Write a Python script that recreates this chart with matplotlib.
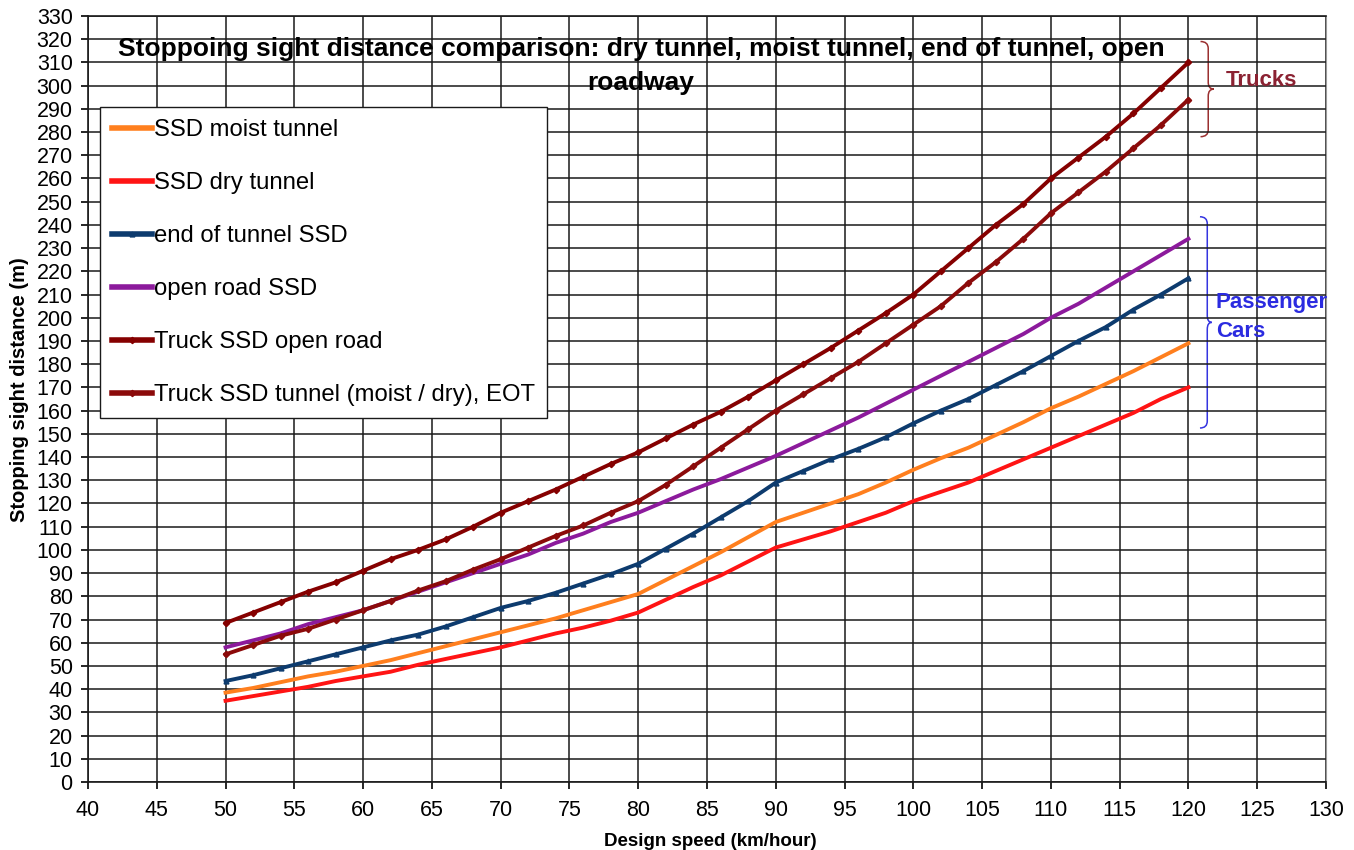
import numpy as np
import matplotlib.pyplot as plt
from matplotlib.path import Path
from matplotlib.patches import PathPatch

plt.rcParams['font.family'] = ['Liberation Sans', 'DejaVu Sans']

# Design speeds (km/hour)
speed = list(range(50, 121, 2))

# Stopping sight distances (m)
ssd_moist = [38.5, 40.5, 43, 45.5, 47.5, 50, 52.5, 55.5, 58.5, 61.5, 64.5, 67.5,
             70.5, 74, 77.5, 81, 87, 93, 99, 105.5, 112, 116, 120, 124,
             129, 134.5, 139.5, 144, 149.5, 155, 161, 166, 171.5, 177, 183, 189]
ssd_dry = [35, 37, 39, 41, 43.5, 45.5, 47.5, 50.5, 53, 55.5, 58, 61,
           64, 66.5, 69.5, 73, 78.5, 84, 89, 95, 101, 104.5, 108, 112,
           116, 121, 125, 129, 134, 139, 144, 149, 154, 159, 165, 170]
ssd_eot = [43.5, 46, 49, 52, 55, 58, 61, 63.5, 67, 71, 75, 78,
           81.5, 85.5, 89.5, 94, 100.5, 107, 114, 121, 129, 134, 139, 143.5,
           148.5, 154.5, 160, 165, 171, 177, 183.5, 190, 196, 203.5, 210, 217]
ssd_open = [58, 61, 64, 68, 71, 74, 78, 82, 86, 90, 94, 98,
            103, 107, 112, 116, 121, 126, 130.5, 135.5, 140.5, 146, 151.5, 157,
            163, 169, 175, 181, 187, 193, 200, 206, 213, 220, 227, 234]
truck_open = [68.5, 73, 77.5, 82, 86, 91, 96, 100, 104.5, 110, 116, 121,
              126, 131.5, 137, 142, 148, 154, 159.5, 166, 173, 180, 187, 194.5,
              202, 210, 220, 230, 240, 249, 260, 269, 278, 288, 299, 310]
truck_tunnel = [55, 59, 63, 66, 70, 74, 78, 82.5, 86.5, 91.5, 96, 101,
                106, 110.5, 116, 121, 128, 136, 144, 152, 160, 167, 174, 181,
                189, 197, 205, 215, 224, 234, 245, 254, 263, 273, 283, 294]

fig = plt.figure(figsize=(13.54, 8.5), dpi=100)
ax = fig.add_axes([0.065, 0.08, 0.9143, 0.9012])

ax.plot(speed, ssd_moist, color='#ff7f1e', lw=2.8, label='SSD moist tunnel')
ax.plot(speed, ssd_dry, color='#ff1414', lw=2.8, label='SSD dry tunnel')
ax.plot(speed, ssd_eot, color='#0d3b6e', lw=2.8, marker='^', ms=3.5,
        label='end of tunnel SSD')
ax.plot(speed, ssd_open, color='#8c1a9c', lw=2.8, label='open road SSD')
ax.plot(speed, truck_open, color='#850000', lw=2.8, marker='D', ms=3.2,
        label='Truck SSD open road')
ax.plot(speed, truck_tunnel, color='#8b0a0a', lw=2.8, marker='D', ms=3.2,
        label='Truck SSD tunnel (moist / dry), EOT')

ax.set_xlim(40, 130)
ax.set_ylim(0, 330)
ax.set_xticks(np.arange(40, 131, 5))
ax.set_yticks(np.arange(0, 331, 10))
ax.tick_params(labelsize=15.5, direction='out', length=5, width=1.2)
ax.tick_params(axis='x', pad=8)
ax.tick_params(axis='y', pad=6)
ax.grid(True, color='#1a1a1a', lw=1.1)
for s in ['left', 'bottom', 'top']:
    ax.spines[s].set_color('#1a1a1a')
    ax.spines[s].set_linewidth(1.2)
ax.spines['right'].set_color('#999999')

ax.set_xlabel('Design speed (km/hour)', fontsize=13.5, fontweight='bold')
ax.xaxis.set_label_coords(0.503, -0.066)
ax.set_ylabel('Stopping sight distance (m)', fontsize=14.5, fontweight='bold')
ax.yaxis.set_label_coords(-0.0475, 0.512)

fig.text(0.4734, 0.956,
         'Stoppoing sight distance comparison: dry tunnel, moist tunnel, end of tunnel, open\nroadway',
         ha='center', va='top', fontsize=19, fontweight='bold', linespacing=1.48)

leg = ax.legend(loc='upper left', bbox_to_anchor=(100 / 1354, 1 - 107 / 850),
                bbox_transform=fig.transFigure, fontsize=17.2, frameon=True,
                fancybox=False, framealpha=1, edgecolor='#1a1a1a',
                borderpad=0.5, labelspacing=1.3, handlelength=1.67,
                handletextpad=0.1, borderaxespad=0)
leg.get_frame().set_linewidth(1.0)
for h in leg.get_lines():
    h.set_linewidth(4)


def brace(x0, x1, x2, ybot, ytop, ymid, color):
    h = 3
    verts = [(x0, ytop), (x1, ytop), (x1, ytop - h),
             (x1, ymid + h), (x1, ymid), (x2, ymid),
             (x1, ymid), (x1, ymid - h),
             (x1, ybot + h), (x1, ybot), (x0, ybot)]
    codes = [Path.MOVETO, Path.CURVE3, Path.CURVE3,
             Path.LINETO, Path.CURVE3, Path.CURVE3,
             Path.CURVE3, Path.CURVE3,
             Path.LINETO, Path.CURVE3, Path.CURVE3]
    ax.add_patch(PathPatch(Path(verts, codes), fill=False, ec=color, lw=1.1,
                           clip_on=False))


brace(120.88, 121.44, 121.85, 278, 319, 298.5, '#9b3030')
brace(120.84, 121.37, 121.7, 152.5, 243.5, 198, '#3535e0')

ax.text(122.75, 302, 'Trucks', color='#8b2232', fontsize=16, fontweight='bold',
        va='center', ha='left')
ax.text(122.0, 206.5, 'Passenger', color='#2b2be0', fontsize=16,
        fontweight='bold', va='center', ha='left')
ax.text(122.0, 194, 'Cars', color='#2b2be0', fontsize=16,
        fontweight='bold', va='center', ha='left')

fig.savefig('out.png', dpi=100)
